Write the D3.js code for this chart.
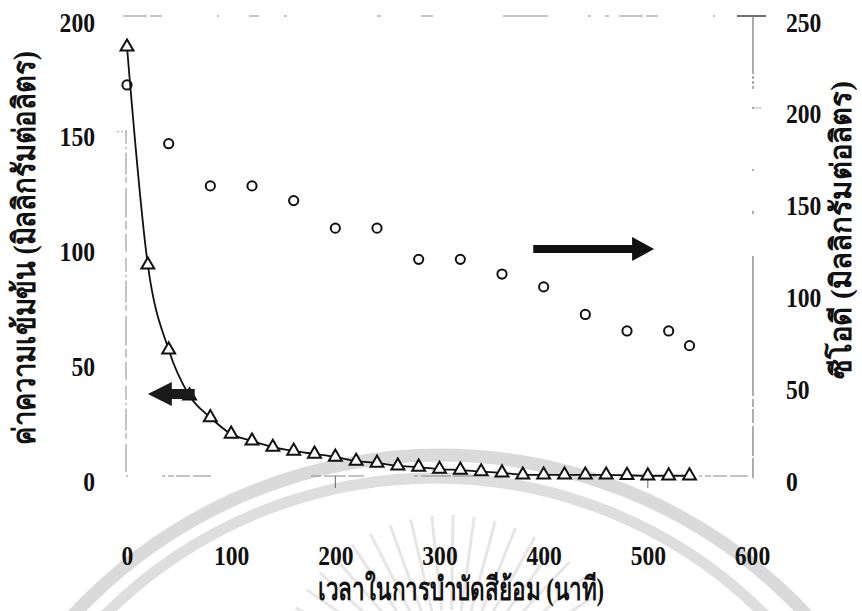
<!DOCTYPE html>
<html>
<head>
<meta charset="utf-8">
<script src="https://cdn.jsdelivr.net/npm/d3@7"></script>
<style>
  html, body { margin: 0; padding: 0; background: #fff; }
  svg { display: block; }
</style>
</head>
<body>
<svg id="chart" width="862" height="611"></svg>
<script>
// Treatment time (minutes) for the dye-concentration series
const dyeTime = [0, 20, 40, 60, 80, 100, 120, 140, 160, 180, 200, 220, 240, 260,
                 280, 300, 320, 340, 360, 380, 400, 420, 440, 460, 480, 500, 520, 540];
// Dye concentration (mg/L), left axis
const dyeConc = [187, 92, 55, 35, 25.5, 18.3, 15.3, 12.6, 10.9, 9.6, 8.3, 6.5, 5.7, 4.4,
                 3.9, 3.0, 2.6, 1.9, 1.4, 0.5, 0.5, 0.5, 0.5, 0.5, 0.3, 0.1, 0.1, 0.1];
// Sampling times (minutes) for COD
const codTime = [0, 40, 80, 120, 160, 200, 240, 280, 320, 360, 400, 440, 480, 520, 540];
// COD (mg/L), right axis
const codValue = [213, 181, 158, 158, 150, 135, 135, 118, 118, 110, 103, 88, 79, 79, 71];

// Axis ticks
const xTicks = [0, 100, 200, 300, 400, 500, 600];
const leftTicks = [0, 50, 100, 150, 200];
const rightTicks = [0, 50, 100, 150, 200, 250];

// Axis titles
const xTitle = "เวลาในการบำบัดสีย้อม (นาที)";
const leftTitle = "ค่าความเข้มข้น (มิลลิกรัมต่อลิตร)";
const rightTitle = "ซีโอดี (มิลลิกรัมต่อลิตร)";

// Arrows pointing each series to its axis: [fromTime, toTime, value]
const leftArrow = [65, 20, 35.7];
const rightArrow = [390, 506, 123.6];

const svg = d3.select("#chart");

const x = d3.scaleLinear().domain([0, 600]).range([127, 752]);
const yL = d3.scaleLinear().domain([0, 200]).range([476, 17]);
const yR = d3.scaleLinear().domain([0, 250]).range([476, 17]);

const numFont = "'Liberation Serif', 'Times New Roman', 'DejaVu Serif', serif";
const thaiFont = "'Liberation Serif', 'Noto Sans', 'DejaVu Sans', serif";

// ---- faint background emblem ----
const bg = svg.append("g").attr("fill", "none");
bg.append("circle").attr("cx", 440).attr("cy", 955).attr("r", 500)
  .attr("stroke", "#dadada").attr("stroke-width", 13);
bg.append("circle").attr("cx", 435).attr("cy", 944).attr("r", 466)
  .attr("stroke", "#dedede").attr("stroke-width", 11);
const rayAngles = d3.range(-152, -27, 7);
bg.selectAll("line.ray").data(rayAngles).join("line")
  .attr("class", "ray")
  .attr("x1", a => 450 + 80 * Math.cos(a * Math.PI / 180))
  .attr("y1", a => 690 + 80 * Math.sin(a * Math.PI / 180))
  .attr("x2", a => 450 + 175 * Math.cos(a * Math.PI / 180))
  .attr("y2", a => 690 + 175 * Math.sin(a * Math.PI / 180))
  .attr("stroke", "#e6e6e6").attr("stroke-width", 3);

// ---- broken frame lines ----
const frame = svg.append("g").attr("fill", "none");
// left axis
frame.append("line").attr("x1", x(0) - 1).attr("x2", x(0) - 1)
  .attr("y1", yL(150) - 2).attr("y2", yL(0) - 4)
  .attr("stroke", "#8a8a8a").attr("stroke-width", 1)
  .attr("stroke-dasharray", "14,3,2,4,22,2,6,5,30,3,9,4,18,6");
frame.append("line").attr("x1", x(0) - 10).attr("x2", x(0) - 1)
  .attr("y1", yL(150)).attr("y2", yL(150))
  .attr("stroke", "#999").attr("stroke-dasharray", "2,2");
// top edge
frame.append("line").attr("x1", x(0) - 4).attr("x2", x(600) - 16)
  .attr("y1", yL(200) - 1).attr("y2", yL(200) - 1)
  .attr("stroke", "#8a8a8a").attr("stroke-width", 1)
  .attr("stroke-dasharray", "24,3,12,55,2,30,10,25,3,90,4,40,12,70,45,40,3,14,4,10");
// right axis
frame.append("line").attr("x1", x(600) - 15).attr("x2", x(600) + 14)
  .attr("y1", yR(250) - 1).attr("y2", yR(250) - 1)
  .attr("stroke", "#222").attr("stroke-width", 1.3);
frame.append("line").attr("x1", x(600) + 1).attr("x2", x(600) + 1)
  .attr("y1", yR(250) - 1).attr("y2", yR(0) + 12)
  .attr("stroke", "#777").attr("stroke-width", 1.2)
  .attr("stroke-dasharray", "58,2,3,2,3,2,3,18,2,60,2,40,3,42,140,3,8,2,14,3,30,2,20");
frame.append("line").attr("x1", x(600) + 1).attr("x2", x(600) + 9)
  .attr("y1", yR(200) - 1).attr("y2", yR(200) - 1)
  .attr("stroke", "#999").attr("stroke-dasharray", "2,1");
// bottom axis
frame.append("line").attr("x1", x(0) - 1).attr("x2", x(600) + 8)
  .attr("y1", yL(0)).attr("y2", yL(0))
  .attr("stroke", "#888").attr("stroke-width", 1)
  .attr("stroke-dasharray", "2,34,3,3,6,2,14,3,18,100,10,3,22,2,16,50,4,3,30,2,20,120,3,4,3,40,3,6,8,3");
[200, 500].forEach(t => {
  frame.append("line").attr("x1", x(t)).attr("x2", x(t))
    .attr("y1", yL(0)).attr("y2", yL(0) + 12)
    .attr("stroke", "#666").attr("stroke-width", 1);
});

// ---- tick labels via d3 axes ----
const axisX = d3.axisBottom(x).tickValues(xTicks).tickSize(0).tickPadding(69).tickFormat(d3.format("d"));
const gx = svg.append("g").attr("transform", `translate(0,${yL(0)})`).call(axisX);
const axisL = d3.axisLeft(yL).tickValues(leftTicks).tickSize(0).tickPadding(31).tickFormat(d3.format("d"));
const gl = svg.append("g").attr("transform", `translate(${x(0) - 1},0)`).call(axisL);
const axisR = d3.axisRight(yR).tickValues(rightTicks).tickSize(0).tickPadding(33).tickFormat(d3.format("d"));
const gr = svg.append("g").attr("transform", `translate(${x(600) + 1},0)`).call(axisR);
[gx, gl, gr].forEach(g => {
  g.select(".domain").remove();
  g.attr("font-family", null).attr("font-size", null);
  g.selectAll("text")
    .attr("fill", "#111")
    .style("font-family", numFont)
    .style("font-weight", "bold")
    .style("font-size", "28px")
    .attr("textLength", d => String(d).length * 11.8)
    .attr("lengthAdjust", "spacingAndGlyphs");
});
gl.selectAll("text").attr("dy", "0.5em");
gr.selectAll("text").attr("dy", "0.5em");

// ---- axis titles ----
function title(sel, len, size) {
  return sel.attr("text-anchor", "middle")
    .attr("fill", "#111")
    .style("font-family", thaiFont)
    .style("font-weight", "bold")
    .style("font-size", size + "px")
    .attr("textLength", len).attr("lengthAdjust", "spacingAndGlyphs");
}
title(svg.append("text").attr("x", 461).attr("y", 600), 286, 32).text(xTitle);
title(svg.append("text").attr("transform", "translate(35,248) rotate(-90)"), 394, 31).text(leftTitle);
title(svg.append("text").attr("transform", "translate(851,230) rotate(-90)"), 298, 29).text(rightTitle);

// ---- dye concentration: smooth line with open triangles ----
const dyeData = dyeTime.map((t, i) => ({ t, v: dyeConc[i] }));
const line = d3.line().x(d => x(d.t)).y(d => yL(d.v)).curve(d3.curveMonotoneX);
svg.append("path").datum(dyeData)
  .attr("d", line).attr("fill", "none")
  .attr("stroke", "#111").attr("stroke-width", 1.8);
const tri = d3.symbol().type(d3.symbolTriangle).size(72);
svg.selectAll("path.tri").data(dyeData).join("path")
  .attr("class", "tri")
  .attr("d", tri)
  .attr("transform", d => `translate(${x(d.t)},${yL(d.v)})`)
  .attr("fill", "#fff").attr("stroke", "#111").attr("stroke-width", 2);

// ---- COD: open circles ----
const codData = codTime.map((t, i) => ({ t, v: codValue[i] }));
svg.selectAll("circle.cod").data(codData).join("circle")
  .attr("class", "cod")
  .attr("cx", d => x(d.t)).attr("cy", d => yR(d.v)).attr("r", 4.6)
  .attr("fill", "none").attr("stroke", "#111").attr("stroke-width", 2);

// ---- arrows ----
function arrow(x0, x1, y, shaft, headLen, headHalf) {
  const dir = Math.sign(x1 - x0);
  const xb = x1 - dir * headLen;
  return `M${x0},${y - shaft / 2} L${xb},${y - shaft / 2} L${xb},${y - headHalf} L${x1},${y} ` +
         `L${xb},${y + headHalf} L${xb},${y + shaft / 2} L${x0},${y + shaft / 2} Z`;
}
svg.append("path")
  .attr("d", arrow(x(leftArrow[0]), x(leftArrow[1]), yL(leftArrow[2]), 10, 24, 12))
  .attr("fill", "#1a1a1a");
svg.append("path")
  .attr("d", arrow(x(rightArrow[0]), x(rightArrow[1]), yR(rightArrow[2]), 8, 22, 12))
  .attr("fill", "#111");
</script>
</body>
</html>
